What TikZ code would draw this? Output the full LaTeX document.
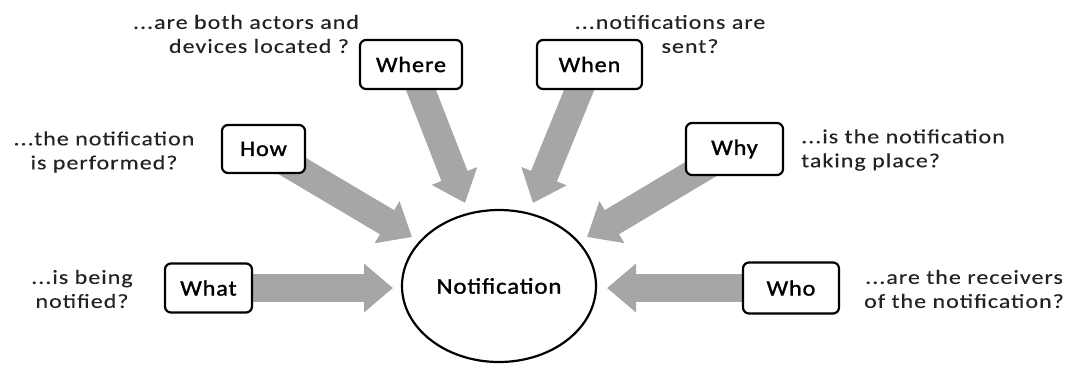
\documentclass[tikz,border=0pt]{standalone}
\usepackage{fontspec}
\setmainfont{Carlito}[FakeStretch=1.2, LetterSpace=5, FakeBold=0.2]
\newfontfamily\lblfont{Carlito}[FakeStretch=1.1, LetterSpace=4, FakeBold=1.3]
\usetikzlibrary{arrows.meta,shapes.geometric,backgrounds}
\definecolor{arrowgray}{RGB}{166,166,166}
\definecolor{qtext}{RGB}{35,35,35}
\begin{document}
\begin{tikzpicture}[x=1pt,y=-1pt,
  box/.style={draw=black, line width=2.2pt, rounded corners=6pt, fill=white, inner sep=0pt,
    font=\lblfont\fontsize{22}{26}\selectfont},
  qtxt/.style={align=center, inner sep=0pt, text=qtext, font=\fontsize{20}{24}\selectfont},
  bigarrow/.style={draw=arrowgray, line width=28pt, -{Triangle[length=29pt,width=47pt]}}]
\useasboundingbox (0,0) rectangle (1073,365);

\node[ellipse, draw=black, line width=2.2pt, fill=white, minimum width=194pt, minimum height=152pt,
  inner sep=0pt, font=\lblfont\fontsize{22.5}{26}\selectfont] (notif) at (499,286) {Notification};

\node[box, minimum width=102pt, minimum height=49pt] (where) at (411,64.5) {Where};
\node[box, minimum width=105pt, minimum height=49pt] (when) at (589.5,64.5) {When};
\node[box, minimum width=83pt, minimum height=48pt] (how) at (263.5,149) {How};
\node[box, minimum width=97pt, minimum height=52pt] (why) at (734.5,149) {Why};
\node[box, minimum width=87pt, minimum height=49pt] (what) at (208.5,288) {What};
\node[box, minimum width=96pt, minimum height=51pt] (who) at (791,288) {Who};

\coordinate (tWhere) at (465,203);
\coordinate (tWhen) at (533,203);
\coordinate (tHow) at (412,237);
\coordinate (tWhy) at (587,237);
\coordinate (tWhat) at (393,288);
\coordinate (tWho) at (607,288);

\begin{scope}[on background layer]
\draw[bigarrow] (where.center) -- (tWhere);
\draw[bigarrow] (when.center) -- (tWhen);
\draw[bigarrow] (how.center) -- (tHow);
\draw[bigarrow] (why.center) -- (tWhy);
\draw[bigarrow] (what.center) -- (tWhat);
\draw[bigarrow] (who.center) -- (tWho);
\end{scope}

\node[qtxt] (qwhere) at (246,34) {...are both actors and\\\hspace*{26pt}devices located ?};
\node[qtxt] (qwhen) at (670,34) {...notifications are\\\hspace*{40pt}sent?};
\node[qtxt] (qhow) at (104,152) {...the notification\\is performed?};
\node[qtxt, align=left] (qwhy) at (903,150) {...is the notification\\taking place?};
\node[qtxt] (qwhat) at (82,289) {...is being\\notified?};
\node[qtxt] (qwho) at (964,289) {...are the receivers\\of the notification?};
\end{tikzpicture}
\end{document}
